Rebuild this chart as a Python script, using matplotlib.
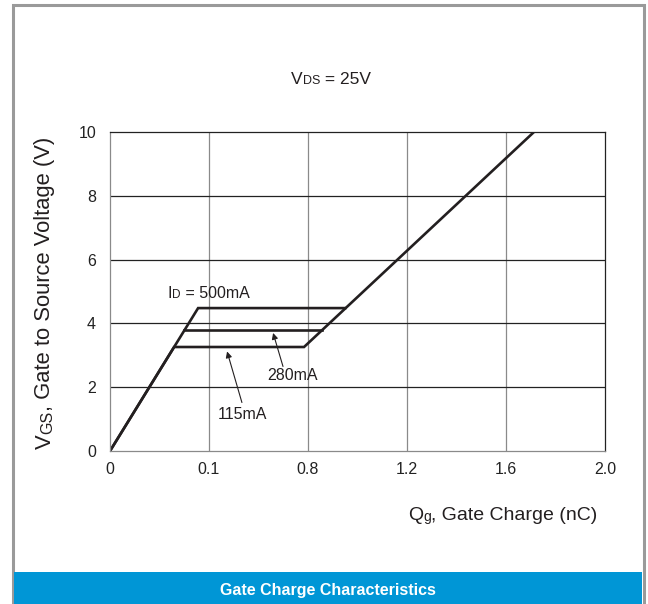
import matplotlib
matplotlib.use('Agg')
import matplotlib.pyplot as plt
from matplotlib.patches import Rectangle

plt.rc('font', family=['Liberation Sans', 'DejaVu Sans'])

W, H = 648, 604

# gate charge axis (the 0.4 grid line is printed as "0.1" in the source)
qg_ticks = [0, 0.4, 0.8, 1.2, 1.6, 2.0]
qg_tick_labels = ['0', '0.1', '0.8', '1.2', '1.6', '2.0']
vgs_ticks = [0, 2, 4, 6, 8, 10]

# curves for each drain current
qg_115 = [0, 0.259, 0.784, 1.713]
vgs_115 = [0, 3.26, 3.26, 10]
qg_280 = [0.301, 0.857]
vgs_280 = [3.79, 3.79]
qg_500 = [0, 0.356, 0.95]
vgs_500 = [0, 4.48, 4.48]

ink = '#231f20'

fig = plt.figure(figsize=(W / 100, H / 100), dpi=100)
ax = fig.add_axes([110 / W, 1 - 451 / H, (605 - 110) / W, (451 - 132) / H])

ax.plot(qg_115, vgs_115, color=ink, lw=1.9, solid_joinstyle='miter')
ax.plot(qg_280, vgs_280, color=ink, lw=1.9)
ax.plot(qg_500, vgs_500, color=ink, lw=1.9, solid_joinstyle='miter')

ax.set_xlim(0, 2.0)
ax.set_ylim(0, 10)
ax.set_xticks(qg_ticks)
ax.set_xticklabels(qg_tick_labels)
ax.set_yticks(vgs_ticks)
ax.tick_params(length=0, labelsize=11.5, colors='#222222')
ax.tick_params(axis='x', pad=8)
ax.tick_params(axis='y', pad=10)

for q in qg_ticks[1:-1]:
    ax.axvline(q, color='#8a8a8a', lw=0.9, zorder=0)
for v in vgs_ticks[1:-1]:
    ax.axhline(v, color='#222222', lw=0.9, zorder=0)
ax.spines['left'].set_color('#8a8a8a')
ax.spines['bottom'].set_color('#8a8a8a')
ax.spines['top'].set_color('#222222')
ax.spines['right'].set_color('#222222')
for s in ax.spines.values():
    s.set_linewidth(0.9)


def compound(parts, px, py, rotation=0, coords='figure pixels'):
    # text with smaller, baseline-level subscripts, chained piece by piece
    first, size = parts[0]
    if rotation:
        prev = ax.annotate(first, xy=(px, py), xycoords=coords, fontsize=size,
                           rotation=90, ha='center', va='bottom',
                           color=ink, annotation_clip=False)
    else:
        prev = ax.annotate(first, xy=(px, py), xycoords=coords, fontsize=size,
                           ha='left', va='center', color=ink,
                           annotation_clip=False)
    for s, size in parts[1:]:
        if rotation:
            prev = ax.annotate(s, xy=(1, 1), xycoords=prev, fontsize=size,
                               rotation=90, ha='right', va='bottom',
                               color=ink, annotation_clip=False)
        else:
            prev = ax.annotate(s, xy=(1, 0), xycoords=prev, fontsize=size,
                               ha='left', va='bottom', color=ink,
                               annotation_clip=False)


compound([('V', 12.5), ('DS', 9), (' = 25V', 12.5)], 291, H - 79)
compound([('Q', 14), ('g', 10), (', Gate Charge (nC)', 14)], 408, H - 516)
compound([('V', 15.8), ('GS', 11.5), (', Gate to Source Voltage (V)', 15.8)],
         45, H - 449, rotation=90)
compound([('I', 11.5), ('D', 8.5), (' = 500mA', 11.5)], 0.234, 4.95,
         coords='data')

ax.text(0.739, 2.38, '280mA', fontsize=11.5, color=ink, ha='center', va='center')
ax.text(0.537, 1.13, '115mA', fontsize=11.5, color=ink, ha='center', va='center')
arrow = dict(arrowstyle='-|>', lw=0.8, color=ink, mutation_scale=9,
             shrinkA=0, shrinkB=0)
ax.annotate('', xy=(0.659, 3.70), xytext=(0.699, 2.65), arrowprops=arrow)
ax.annotate('', xy=(0.473, 3.12), xytext=(0.533, 1.52), arrowprops=arrow)

# outer frame and caption band
fig.patches.append(Rectangle((12.5 / W, -0.05), (644 - 12.5) / W, 1.05 - 5 / H,
                             transform=fig.transFigure, fill=False,
                             edgecolor='#9a9a9a', lw=2.2))
fig.patches.append(Rectangle((14 / W, 0), (642 - 14) / W, (604 - 572) / H,
                             transform=fig.transFigure, facecolor='#0096d6',
                             edgecolor='none'))
fig.text(328 / W, 1 - 591 / H, 'Gate Charge Characteristics',
         weight='bold', fontsize=11.5, color='white', ha='center', va='center')

fig.savefig('out.png', dpi=100)
